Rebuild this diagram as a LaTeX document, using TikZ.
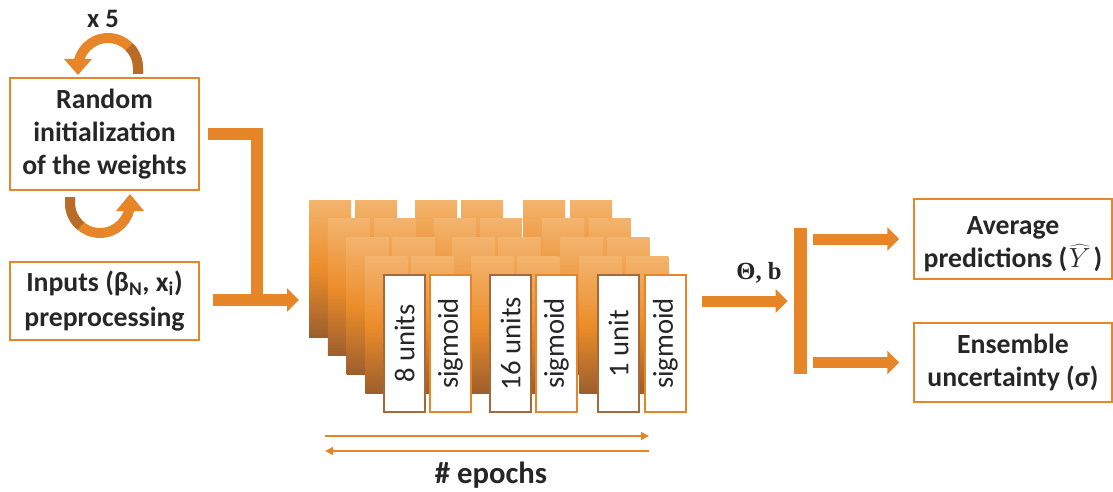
\documentclass[tikz,border=0pt]{standalone}
\usepackage{fontspec}
\setmainfont{Carlito}
\newfontfamily\serifb{Liberation Serif}
\usetikzlibrary{arrows.meta,calc}
\newdimen\px \px=0.75pt
\definecolor{org}{RGB}{230,134,40}
\definecolor{orgdk}{RGB}{184,108,40}
\definecolor{brn}{RGB}{165,106,58}
\definecolor{btop}{RGB}{243,180,110}
\definecolor{bmid}{RGB}{236,141,43}
\definecolor{bbot}{RGB}{157,94,44}
\definecolor{txt}{RGB}{38,38,38}
\begin{document}
\begin{tikzpicture}[x=0.75pt,y=-0.75pt,
  box/.style={draw=org, line width=1.5\px, align=center, inner sep=0pt, text=txt, font=\fontsize{20.8}{24.75}\selectfont\bfseries},
  lbl/.style={text=txt, inner sep=0pt, font=\fontsize{20}{24}\selectfont\bfseries},
  fat/.style={draw=org, line width=12\px},
  fatarrow/.style={fat, -{Triangle[length=9pt,width=17.25pt]}},
  thinarrow/.style={draw=org, line width=1.5\px, -{Triangle[length=6pt,width=6pt]}},
  block/.style={top color=btop, bottom color=bbot, middle color=bmid, draw=none},
  wbox/.style={draw, fill=white, line width=1.5\px, minimum width=41\px, minimum height=137\px, inner sep=0pt, font=\fontsize{21.5}{24}\selectfont, text=txt},
  loop/.style={draw=org, line width=10\px},
  loopdk/.style={draw=orgdk, line width=10\px},
]
\useasboundingbox (0,0) rectangle (1113,492);

% left boxes
\node[box, minimum width=189\px, minimum height=112\px] (rand) at (104.5,134) {Random\\initialization\\of the weights};
\node[box, minimum width=189\px, minimum height=78\px, font=\fontsize{20.8}{26}\selectfont\bfseries] (inp) at (104.5,301) {Inputs (β\textsubscript{N}, x\textsubscript{i})\\preprocessing};

% loop arrows
\node[lbl] (x5) at (103,19) {x 5};
\draw[loop] (138,74) -- (138,68) arc[start angle=0, end angle=-180, radius=30] -- (78,60);
\draw[loopdk] (138,74) -- (138,68) arc[start angle=0, end angle=-45, radius=30];
\fill[org] (64,59) -- (92,59) -- (78,75) -- cycle;
\draw[loop] (70,197) -- (70,203) arc[start angle=180, end angle=0, radius=30] -- (130,211);
\draw[loopdk] (70,197) -- (70,203) arc[start angle=180, end angle=130, radius=30];
\fill[org] (116,211) -- (144,211) -- (130,194) -- cycle;

% left connectors
\coordinate (junc) at (256.5,300);
\coordinate (sin) at (299,300);
\draw[fat, line join=miter] ($(rand.east)+(8,0)$) -| (junc);
\draw[fatarrow] ($(inp.east |- sin)+(13,0)$) -- (sin);

% stacked layers
\foreach \k in {0,1,2,3}
  \foreach \bx in {309,355,415,461,523,570}
    \path[block] (\bx+18.75*\k, 200+18.75*\k) rectangle ++(42,137);

\node[wbox, draw=brn] (l1) at (404.5,343.5) {\rotatebox{90}{8 units}};
\node[wbox, draw=org] (s1) at (450.5,343.5) {\rotatebox{90}{sigmoid}};
\node[wbox, draw=brn] (l2) at (510.5,343.5) {\rotatebox{90}{16 units}};
\node[wbox, draw=org] (s2) at (556.5,343.5) {\rotatebox{90}{sigmoid}};
\node[wbox, draw=brn] (l3) at (618.5,343.5) {\rotatebox{90}{1 unit}};
\node[wbox, draw=org] (s3) at (665.5,343.5) {\rotatebox{90}{sigmoid}};

% epochs
\coordinate (eL1) at (325,436); \coordinate (eR1) at (649,436);
\coordinate (eL2) at (325,451); \coordinate (eR2) at (649,451);
\draw[thinarrow] (eL1) -- (eR1);
\draw[thinarrow] (eR2) -- (eL2);
\node[lbl, font=\fontsize{23}{26}\selectfont\bfseries] (ep) at (491,475) {\# epochs};

% right side
\coordinate (sout) at (702,301);
\node[fill=org, minimum width=13\px, minimum height=146\px, inner sep=0pt] (bar) at (800.5,301) {};
\draw[fatarrow, line width=11\px] (sout) -- ($(bar.west)+(-6,0)$);
\node[text=txt, inner sep=0pt, font=\fontsize{18.5}{20}\selectfont\serifb\bfseries] (tb) at (759,273) {Θ, b};

\node[box, minimum width=198\px, minimum height=80\px] (avg) at (1013,239) {\begin{tabular}{@{}c@{}}\rule{0pt}{25pt}Average\\predictions (\ensuremath{\mkern1mu\widehat{Y}\mkern2mu})\end{tabular}};
\node[box, minimum width=198\px, minimum height=79\px] (ens) at (1013,362.5) {Ensemble\\uncertainty (σ)};

\coordinate (b1) at (bar.east |- avg.west);
\coordinate (b2) at (bar.east |- ens.west);
\draw[fatarrow, line width=11\px] ($(b1)+(6,0)$) -- ($(avg.west)+(-14,0)$);
\draw[fatarrow, line width=11\px] ($(b2)+(6,0)$) -- ($(ens.west)+(-14,0)$);
\end{tikzpicture}
\end{document}
